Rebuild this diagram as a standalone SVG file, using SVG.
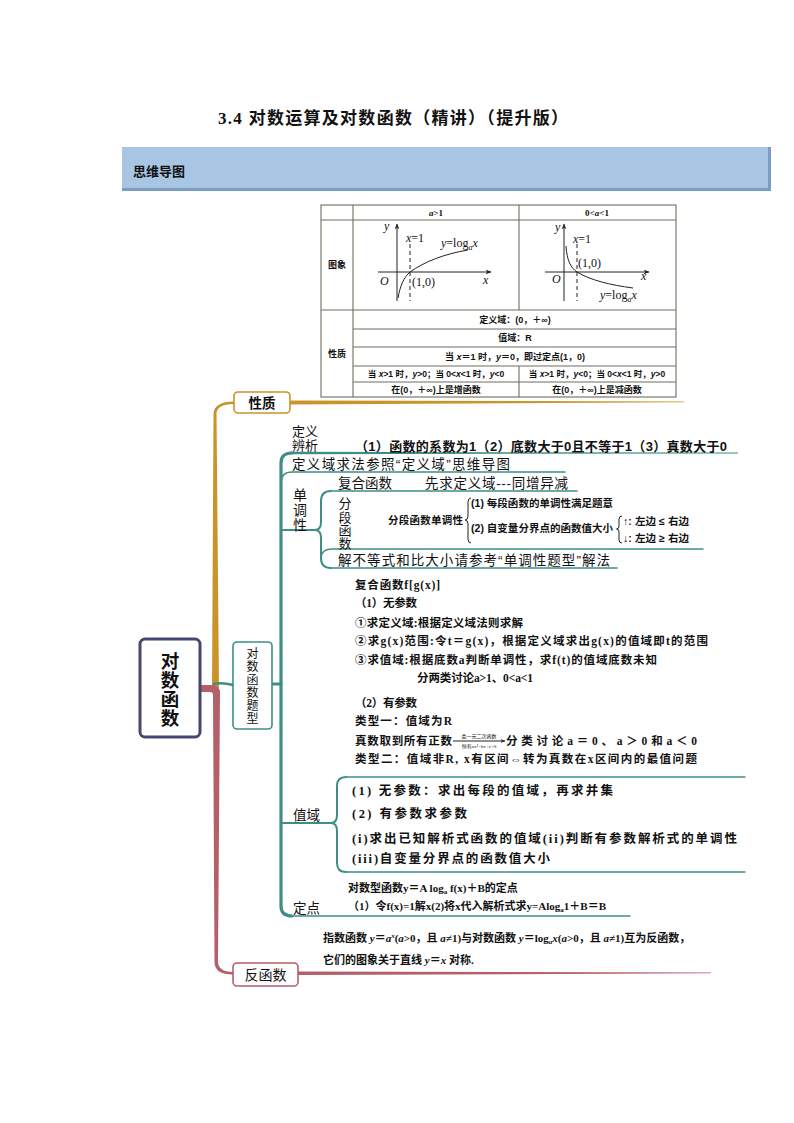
<svg xmlns="http://www.w3.org/2000/svg" width="794" height="1123" viewBox="0 0 794 1123">
<defs>
<style>
.t{font-family:"Liberation Sans","Noto Sans CJK SC",sans-serif;fill:#111}
.sr{font-family:"Liberation Serif","Noto Sans CJK SC",serif;fill:#111}
.b{font-weight:700}
.tb{fill:none;stroke:#6e6e5e;stroke-width:1.1}
.ax{fill:none;stroke:#222;stroke-width:1}
.gold{fill:#c9952a}
.rose{fill:#b55f6b}
.tl{fill:none;stroke:#3e8e86;stroke-linecap:round}
.tf{fill:#3e8e86}
.node{fill:#fff;stroke-width:1.6}
.mid{text-anchor:middle}
</style>
<marker id="ah" viewBox="0 0 10 10" refX="9" refY="5" markerWidth="6" markerHeight="6" orient="auto"><path d="M0,1 L10,5 L0,9 L3,5 Z" fill="#222"/></marker>
<marker id="ah2" viewBox="0 0 10 10" refX="9" refY="5" markerWidth="5" markerHeight="5" orient="auto"><path d="M0,1 L10,5 L0,9 L3,5 Z" fill="#222"/></marker>
</defs>
<rect width="794" height="1123" fill="#fff"/>

<!-- title -->
<text class="sr b" x="218" y="124" font-size="17" textLength="350">3.4 对数运算及对数函数（精讲）（提升版）</text>

<!-- header bar -->
<g id="header">
<rect x="122" y="147" width="648" height="42" fill="#a9c5e4"/>
<rect x="122" y="188" width="649" height="3" fill="#7b9cc5"/>
<rect x="768" y="147" width="3" height="44" fill="#7b9cc5"/>
<text class="t b" x="133" y="176" font-size="13" fill="#1a1a1a">思维导图</text>
</g>

<!-- table -->
<g id="table">
<rect class="tb" x="321" y="205" width="355" height="192"/>
<line class="tb" x1="321" y1="220" x2="676" y2="220"/>
<line class="tb" x1="321" y1="310" x2="676" y2="310"/>
<line class="tb" x1="353" y1="329" x2="676" y2="329"/>
<line class="tb" x1="353" y1="347" x2="676" y2="347"/>
<line class="tb" x1="353" y1="366" x2="676" y2="366"/>
<line class="tb" x1="353" y1="382" x2="676" y2="382"/>
<line class="tb" x1="353" y1="205" x2="353" y2="397"/>
<line class="tb" x1="519" y1="205" x2="519" y2="310"/>
<line class="tb" x1="519" y1="366" x2="519" y2="397"/>
<text class="sr b mid" x="436" y="216" font-size="9"><tspan font-style="italic">a</tspan>&gt;1</text>
<text class="sr b mid" x="597" y="216" font-size="9">0&lt;<tspan font-style="italic">a</tspan>&lt;1</text>
<text class="t b mid" x="337" y="268" font-size="9">图象</text>
<text class="t b mid" x="337" y="357" font-size="9">性质</text>
<text class="t b mid" x="515" y="323" font-size="9">定义域：(0，＋∞)</text>
<text class="t b mid" x="515" y="341" font-size="9">值域：R</text>
<text class="t b mid" x="515" y="360" font-size="9">当 <tspan font-style="italic">x</tspan>＝1 时，<tspan font-style="italic">y</tspan>＝0，即过定点(1，0)</text>
<text class="t b mid" x="436" y="377" font-size="8.5">当 <tspan font-style="italic">x</tspan>&gt;1 时，<tspan font-style="italic">y</tspan>&gt;0；当 0&lt;<tspan font-style="italic">x</tspan>&lt;1 时，<tspan font-style="italic">y</tspan>&lt;0</text>
<text class="t b mid" x="597" y="377" font-size="8.5">当 <tspan font-style="italic">x</tspan>&gt;1 时，<tspan font-style="italic">y</tspan>&lt;0；当 0&lt;<tspan font-style="italic">x</tspan>&lt;1 时，<tspan font-style="italic">y</tspan>&gt;0</text>
<text class="t b mid" x="436" y="393" font-size="9">在(0，＋∞)上是增函数</text>
<text class="t b mid" x="597" y="393" font-size="9">在(0，＋∞)上是减函数</text>
<!-- graph a>1 -->
<line class="ax" x1="397" y1="301" x2="397" y2="224" marker-end="url(#ah)"/>
<line class="ax" x1="378" y1="272" x2="491" y2="272" marker-end="url(#ah)"/>
<line class="ax" x1="410" y1="244" x2="410" y2="301" stroke-dasharray="4,3"/>
<path class="ax" d="M398,298 C400,286 404,277 410,272 C424,262 444,254 468,250"/>
<text class="sr" x="384" y="230" font-size="12" font-style="italic">y</text>
<text class="sr" x="483" y="284" font-size="12" font-style="italic">x</text>
<text class="sr" x="380" y="285" font-size="12" font-style="italic">O</text>
<text class="sr" x="406" y="242" font-size="12"><tspan font-style="italic">x</tspan>=1</text>
<text class="sr" x="412" y="286" font-size="12">(1,0)</text>
<text class="sr" x="441" y="247" font-size="12"><tspan font-style="italic">y</tspan>=log<tspan font-size="8" dy="3" font-style="italic">a</tspan><tspan dy="-3" font-style="italic">x</tspan></text>
<!-- graph 0<a<1 -->
<line class="ax" x1="564" y1="301" x2="564" y2="224" marker-end="url(#ah)"/>
<line class="ax" x1="545" y1="272" x2="649" y2="272" marker-end="url(#ah)"/>
<line class="ax" x1="577" y1="244" x2="577" y2="301" stroke-dasharray="4,3"/>
<path class="ax" d="M566,246 C567,261 571,268 577,272 C590,280 610,285 633,288"/>
<text class="sr" x="555" y="231" font-size="12" font-style="italic">y</text>
<text class="sr" x="641" y="280" font-size="12" font-style="italic">x</text>
<text class="sr" x="552" y="283" font-size="12" font-style="italic">O</text>
<text class="sr" x="573" y="243" font-size="12"><tspan font-style="italic">x</tspan>=1</text>
<text class="sr" x="578" y="267" font-size="12">(1,0)</text>
<text class="sr" x="600" y="299" font-size="12"><tspan font-style="italic">y</tspan>=log<tspan font-size="8" dy="3" font-style="italic">a</tspan><tspan dy="-3" font-style="italic">x</tspan></text>
</g>

<!-- connectors -->
<g id="connectors">
<path class="gold" d="M234,401.5 Q214,401.5 213.5,414 L212,688 L219,688 L216.5,414 Q216.5,404 234,404 Z"/>
<path class="gold" d="M290,400.5 L684,401.5 L684,402.3 L290,404.5 Z"/>
<path class="rose" d="M200,685 L211,685 Q220.5,685 220,694 L218,961 Q218,972 233,972 L233,974.5 Q214.5,974.5 214.5,962 L213,695 Q213,692 210,692 L200,692 Z"/>
<path class="rose" d="M298,971.5 L711,972.5 L711,973.3 L298,975 Z"/>
<path class="tl" d="M214,684 Q222,682 233,685" stroke-width="2.5"/>
<path class="tl" d="M272,684 L281,684" stroke-width="3"/>
<path class="tl" d="M292,453 Q281,453 281,463 L281,906 Q281,916 292,916" stroke-width="3.2"/>
<path class="tf" d="M290,451.8 L738,452.6 L738,453.4 L290,454.3 Z"/>
<path class="tl" d="M281,482 Q281.5,472 292,472 L565,472" stroke-width="1.6"/>
<path class="tl" d="M281,530 L316,530" stroke-width="2"/>
<path class="tl" d="M331,491 Q321,491 321,501 L321,522 Q321,530 315,530 Q321,530 321,538 L321,558 Q321,568 331,568" stroke-width="2"/>
<path class="tl" d="M331,491 L577,491" stroke-width="1.5"/>
<path class="tl" d="M321,557 Q322,549 332,549 L703,549" stroke-width="1.5"/>
<path class="tl" d="M331,568 L617,568" stroke-width="1.5"/>
<path class="tl" d="M281,823 L331,823" stroke-width="2"/>
<path class="tl" d="M346,777 Q337,777 337,786 L337,815 Q337,823 331,823 Q337,823 337,831 L337,863 Q337,872 346,872" stroke-width="2"/>
<path class="tl" d="M346,777 L745,777" stroke-width="1.4"/>
<path class="tl" d="M346,872 L745,872" stroke-width="1.4"/>
<path class="tl" d="M292,916 L630,916" stroke-width="1.5"/>
<path class="ax" d="M471,498 Q468,498 468,502 L468,516 Q468,520 465,520 Q468,520 468,524 L468,539 Q468,543 471,543" stroke-width="0.9"/>
<path class="ax" d="M622,516 Q619,516 619,519 L619,526 Q619,529 616.5,529 Q619,529 619,532 L619,540 Q619,543 622,543" stroke-width="0.9"/>
<line class="ax" x1="453" y1="741" x2="505" y2="741" marker-end="url(#ah2)" stroke-width="0.8"/>
</g>

<!-- center node -->
<g id="center">
<rect x="140" y="639" width="60" height="98" rx="5" fill="#fff" stroke="#45476f" stroke-width="3"/>
<text class="t b mid" x="170" font-size="18.5"><tspan x="170" y="668">对</tspan><tspan x="170" y="687">数</tspan><tspan x="170" y="706">函</tspan><tspan x="170" y="725">数</tspan></text>
</g>

<g id="node-xingzhi">
<rect class="node" x="234" y="392" width="56" height="21" rx="4" stroke="#c9952a"/>
<text class="t b mid" x="262" y="407.5" font-size="13.5">性质</text>
</g>

<g id="node-tixing">
<rect class="node" x="233" y="642" width="39" height="87" rx="4" stroke="#3e8e86"/>
<text class="t mid" x="252.5" font-size="12"><tspan x="252.5" y="658">对</tspan><tspan x="252.5" y="671">数</tspan><tspan x="252.5" y="684">函</tspan><tspan x="252.5" y="697">数</tspan><tspan x="252.5" y="710">题</tspan><tspan x="252.5" y="723">型</tspan></text>
</g>

<g id="node-fanhanshu">
<rect class="node" x="233" y="963" width="65" height="23" rx="4" stroke="#b55f6b"/>
<text class="t mid" x="265.5" y="980" font-size="14">反函数</text>
</g>

<g id="dingyi">
<text class="t" x="292" y="436" font-size="13">定义</text>
<text class="t" x="292" y="450" font-size="13">辨析</text>
<text class="t b" x="355" y="451" font-size="13" textLength="372">（1）函数的系数为1（2）底数大于0且不等于1（3）真数大于0</text>
<text class="t" x="292" y="469" font-size="13.5" textLength="218">定义域求法参照“定义域”思维导图</text>
</g>

<g id="dandiao">
<text class="t" x="300" font-size="14" text-anchor="middle"><tspan x="300" y="500">单</tspan><tspan x="300" y="515">调</tspan><tspan x="300" y="530">性</tspan></text>
<text class="t" x="338" y="488" font-size="13.5" textLength="54">复合函数</text>
<text class="t" x="425" y="488" font-size="13.5" textLength="143">先求定义域---同增异减</text>
<text class="t" x="345" font-size="13" text-anchor="middle"><tspan x="345" y="508">分</tspan><tspan x="345" y="521.5">段</tspan><tspan x="345" y="535">函</tspan><tspan x="345" y="548">数</tspan></text>
<text class="t b" x="388" y="524" font-size="10.5" textLength="75">分段函数单调性</text>
<text class="t b" x="471" y="507" font-size="10.5" textLength="142">(1) 每段函数的单调性满足题意</text>
<text class="t b" x="471" y="532" font-size="10.5" textLength="142">(2) 自变量分界点的函数值大小</text>
<text class="t b" x="623" y="525" font-size="10.5" textLength="66">↑: 左边 ≤ 右边</text>
<text class="t b" x="623" y="542" font-size="10.5" textLength="66">↓: 左边 ≥ 右边</text>
<text class="t" x="338" y="565" font-size="13.5" textLength="272">解不等式和比大小请参考“单调性题型”解法</text>
</g>

<g id="fuhe">
<text class="sr b" x="355" y="589" font-size="11.5" textLength="85">复合函数f[g(x)]</text>
<text class="sr b" x="355" y="607" font-size="11.5" textLength="62">（1）无参数</text>
<text class="sr b" x="355" y="627" font-size="11.5" textLength="168">①求定义域:根据定义域法则求解</text>
<text class="sr b" x="355" y="645" font-size="11.5" textLength="353">②求g(x)范围:令t＝g(x)，根据定义域求出g(x)的值域即t的范围</text>
<text class="sr b" x="355" y="664" font-size="11.5" textLength="302">③求值域:根据底数a判断单调性，求f(t)的值域底数未知</text>
<text class="sr b" x="417" y="682" font-size="11.5" textLength="116">分两类讨论a&gt;1、0&lt;a&lt;1</text>
<text class="sr b" x="355" y="707" font-size="11.5" textLength="62">（2）有参数</text>
<text class="sr b" x="355" y="725" font-size="11.5" textLength="97">类型一：值域为R</text>
<text class="sr b" x="355" y="745" font-size="11.5" textLength="97">真数取到所有正数</text>
<text class="sr mid" x="479" y="738" font-size="5">类一元二次函数</text>
<text class="sr mid" x="479" y="748" font-size="5">恒有ax²+bx+c&gt;0</text>
<text class="sr b" x="506" y="745" font-size="11.5" textLength="191">分类讨论a＝0、a＞0和a＜0</text>
<text class="sr b" x="355" y="763" font-size="11.5" textLength="342">类型二：值域非R, x有区间⇔转为真数在x区间内的最值问题</text>
</g>

<g id="zhiyu">
<text class="t" x="293" y="820" font-size="13.5">值域</text>
<text class="sr b" x="352" y="795" font-size="12.5" textLength="261">(1) 无参数：求出每段的值域，再求并集</text>
<text class="sr b" x="352" y="818" font-size="12.5" textLength="115">(2) 有参数求参数</text>
<text class="sr b" x="352" y="843" font-size="12.5" textLength="385">(i)求出已知解析式函数的值域(ii)判断有参数解析式的单调性</text>
<text class="sr b" x="352" y="863" font-size="12.5" textLength="198">(iii)自变量分界点的函数值大小</text>
</g>

<g id="dingdian">
<text class="t" x="293" y="913" font-size="13.5">定点</text>
<text class="sr b" x="348" y="892" font-size="11">对数型函数y＝A log<tspan font-size="7" dy="2">a</tspan><tspan dy="-2"> f(x)＋B的定点</tspan></text>
<text class="sr b" x="348" y="910" font-size="11">（1）令f(x)=1解x(2)将x代入解析式求y=Alog<tspan font-size="7" dy="2">a</tspan><tspan dy="-2">1＋B＝B</tspan></text>
</g>

<g id="fan">
<text class="sr b" x="323" y="942" font-size="11">指数函数 <tspan font-style="italic">y</tspan>＝<tspan font-style="italic">a</tspan><tspan font-size="7" dy="-4" font-style="italic">x</tspan><tspan dy="4">(</tspan><tspan font-style="italic">a</tspan>&gt;0，且 <tspan font-style="italic">a</tspan>≠1)与对数函数 <tspan font-style="italic">y</tspan>＝log<tspan font-size="7" dy="2" font-style="italic">a</tspan><tspan dy="-2" font-style="italic">x</tspan>(<tspan font-style="italic">a</tspan>&gt;0，且 <tspan font-style="italic">a</tspan>≠1)互为反函数，</text>
<text class="sr b" x="323" y="964" font-size="11">它们的图象关于直线 <tspan font-style="italic">y</tspan>＝<tspan font-style="italic">x</tspan> 对称.</text>
</g>
</svg>
